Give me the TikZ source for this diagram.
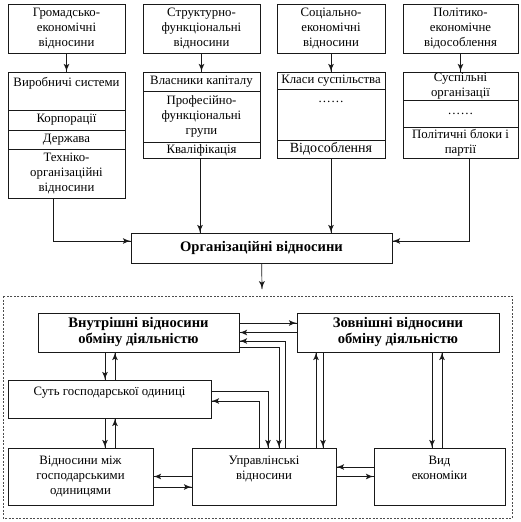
\documentclass[tikz,border=0pt]{standalone}
\usepackage{fontspec}
\setmainfont{Liberation Serif}
\usetikzlibrary{decorations.markings}
\usetikzlibrary{arrows}
\newcommand{\txt}{\fontsize{12.8}{15}\selectfont}
\newcommand{\bigtxt}{\fontsize{14.6}{16}\selectfont\bfseries}
\tikzset{->/.style = {decoration={markings,
                                  mark=at position 1 with {\arrow[scale=1.6]{latex'}}},
                      postaction={decorate}}}
\tikzset{cell/.style = {draw, align = center, inner sep = 0, font = \txt}}
\tikzset{col1/.style = {cell, minimum width = 117}}
\tikzset{col2/.style = {cell, minimum width = 117}}
\tikzset{col3/.style = {cell, minimum width = 108}}
\tikzset{col4/.style = {cell, minimum width = 115}}
\tikzset{bigbox/.style = {cell, font = \bigtxt}}

\begin{document}
\begin{tikzpicture}[x = 1pt, y = -1pt, line width = 0.7pt, draw = black!90]
      \useasboundingbox (0, 0) rectangle (521, 522);

      % top row
      \node [col1, minimum height = 49] (g1) at (66.5, 28.5) {Громадсько-\\економічні\\відносини};
      \node [col1, minimum height = 38,
             label = {[font = \txt, anchor = north, inner sep = 5]north:Виробничі системи}] (g2) at (66.5, 91) {};
      \node [col1, minimum height = 20] (g3) at (66.5, 120) {Корпорації};
      \node [col1, minimum height = 19] (g4) at (66.5, 139.5) {Держава};
      \node [col1, minimum height = 49] (g5) at (66.5, 173.5) {Техніко-\\організаційні\\відносини};

      \node [col2, minimum height = 49] (s1) at (201.5, 28.5) {Структурно-\\функціональні\\відносини};
      \node [col2, minimum height = 19] (s2) at (201.5, 81.5) {Власники капіталу};
      \node [col2, minimum height = 51] (s3) at (201.5, 116.5) {Професійно-\\функціональні\\групи};
      \node [col2, minimum height = 16] (s4) at (201.5, 150) {Кваліфікація};

      \node [col3, minimum height = 49] (c1) at (331, 28.5) {Соціально-\\економічні\\відносини};
      \node [col3, minimum height = 17] (c2) at (331, 80.5) {Класи суспільства};
      \node [col3, minimum height = 51,
             label = {[font = \txt, anchor = north, inner sep = 12]north:……}] (c3) at (331, 114.5) {};
      \node [col3, minimum height = 18, font = \fontsize{14}{16}\selectfont] (c4) at (331, 149) {Відособлення};

      \node [col4, minimum height = 49] (p1) at (460.5, 28.5) {Політико-\\економічне\\відособлення};
      \node [col4, minimum height = 28] (p2) at (460.5, 86) {Суспільні\\організації};
      \node [col4, minimum height = 27] (p3) at (460.5, 113.5) {……};
      \node [col4, minimum height = 31] (p4) at (460.5, 142.5) {Політичні блоки і\\партії};

      \draw [->] (g1) -- (g2);
      \draw [->] (s1) -- (s2);
      \draw [->] (c1) -- (c2);
      \draw [->] (p1) -- (p2);

      % middle
      \node [bigbox, minimum width = 261, minimum height = 30] (org) at (261.5, 248) {Організаційні відносини};
      \coordinate (frtop) at (262, 289);

      \draw [->] ([xshift = -13.5]g5.south) |- ([yshift = 7]org.west);
      \draw [->] ([xshift = -1.5]s4.south) -- ([xshift = -1.5]s4.south |- org.north);
      \draw [->] (c4) -- (c4 |- org.north);
      \draw [->] ([xshift = 8.5]p4.south) |- ([yshift = 7]org.east);
      \draw [->] (org) -- (frtop);

      % frame
      \draw [black!70, dash pattern = on 2pt off 1.5pt, line width = 0.6pt] (3, 296) rectangle (512, 518);

      \node [bigbox, minimum width = 201, minimum height = 39] (vn) at (138.5, 332.5) {Внутрішні відносини\\обміну діяльністю};
      \node [bigbox, minimum width = 202, minimum height = 39] (zv) at (398, 332.5) {Зовнішні відносини\\обміну діяльністю};
      \node [cell, minimum width = 203, minimum height = 38,
             label = {[font = \txt, anchor = north, inner sep = 7]north:Суть господарської одиниці}] (sut) at (109.5, 399) {};
      \node [cell, minimum width = 145, minimum height = 57] (vm) at (80.5, 476.5) {Відносини між\\господарськими\\одиницями};
      \node [cell, minimum width = 144, minimum height = 57,
             label = {[font = \txt, anchor = north, inner sep = 8, align = center]north:{Управлінські\\відносини}}] (up) at (264, 476.5) {};
      \node [cell, minimum width = 131, minimum height = 57,
             label = {[font = \txt, anchor = north, inner sep = 8, align = center]north:{Вид\\економіки}}] (vyd) at (439.5, 476.5) {};

      \draw [->] ([yshift = 9.5]vn.east) -- ([yshift = 9.5]vn.east -| zv.west);
      \draw [->] (zv.west) -- (zv.west -| vn.east);
      \draw [->] ([xshift = 21]up.north) |- ([yshift = -8.5]vn.east);
      \draw [->] ([yshift = -14.5]vn.east) -| ([xshift = 15]up.north);
      \draw [->] ([yshift = 8]sut.east) -| ([xshift = 4]up.north);
      \draw [->] ([xshift = -5]up.north) |- ([yshift = -2]sut.east);
      \draw [->] ([xshift = 52]up.north) -- ([xshift = 52]up.north |- zv.south);
      \draw [->] ([xshift = 59]up.north |- zv.south) -- ([xshift = 59]up.north);
      \draw [->] ([xshift = -7.5]vyd.north |- zv.south) -- ([xshift = -7.5]vyd.north);
      \draw [->] ([xshift = 2.5]vyd.north) -- ([xshift = 2.5]vyd.north |- zv.south);
      \draw [->] ([yshift = 9.5]vyd.west) -- ([yshift = 9.5]vyd.west -| up.east);
      \draw [->] (up.east) -- (up.east -| vyd.west);
      \draw [->] (up.west) -- (up.west -| vm.east);
      \draw [->] ([yshift = -10.5]vm.east) -- ([yshift = -10.5]vm.east -| up.west);
      \draw [->] ([xshift = -4.5]sut.north |- vn.south) -- ([xshift = -4.5]sut.north);
      \draw [->] ([xshift = 5.5]sut.north) -- ([xshift = 5.5]sut.north |- vn.south);
      \draw [->] ([xshift = -4.5]sut.south) -- ([xshift = -4.5]sut.south |- vm.north);
      \draw [->] ([xshift = 5.5]vm.north -| sut.south) -- ([xshift = 5.5]sut.south);
    \end{tikzpicture}
\end{document}
